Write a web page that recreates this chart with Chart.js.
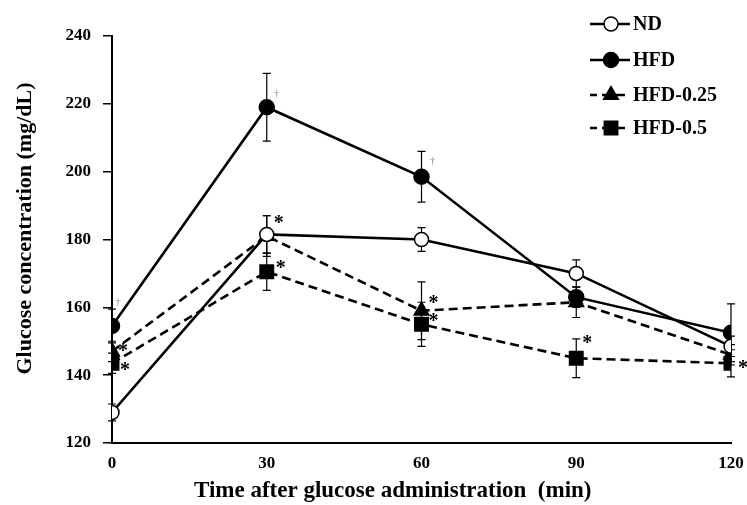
<!DOCTYPE html>
<html>
<head>
<meta charset="utf-8">
<script src="https://cdn.jsdelivr.net/npm/chart.js@4.4.1/dist/chart.umd.min.js"></script>
<style>
  html, body { margin: 0; padding: 0; background: #fff; }
</style>
</head>
<body>
<canvas id="ogtt" width="747" height="505"></canvas>
<script>
// time points (min) and tick values
const times = [0, 30, 60, 90, 120];
const yTicks = [120, 140, 160, 180, 200, 220, 240];
const seriesNames = ['ND', 'HFD', 'HFD-0.25', 'HFD-0.5'];

// mean glucose (mg/dL) per group
const ndValues = [129, 181.5, 180, 170, 148.5];
const hfdValues = [154.5, 219, 198.5, 163, 152.5];
const hfd025Values = [147, 181, 159, 161.5, 146];
const hfd05Values = [143.5, 170.5, 155, 145, 143.5];

// error (+/-) per group
const ndErr = [2.5, 5.5, 3.5, 4, 3];
const hfdErr = [5, 10, 7.5, 3, 8.5];
const hfd025Err = [3, 6, 8.5, 4.5, 3];
const hfd05Err = [3, 5.5, 6.5, 5.7, 4];

// significance marks: [dataset label, point index, symbol]
const marks = [
	['HFD', 0, '\u2020'], ['HFD', 1, '\u2020'], ['HFD', 2, '\u2020'],
	['HFD-0.25', 0, '*'], ['HFD-0.5', 0, '*'],
	['HFD-0.25', 1, '*'], ['HFD-0.5', 1, '*'],
	['HFD-0.25', 2, '*'], ['HFD-0.5', 2, '*'],
	['HFD-0.5', 3, '*'], ['HFD-0.5', 4, '*']
];
// offsets of each mark from its point (same order as marks)
const markOffsets = [
	[6, -24], [10, -13], [11, -16],
	[11, -4], [13, 4],
	[12, -16], [14, -7],
	[12, -11], [12, -6],
	[11, -18], [12, 2]
];

const FONT = '"Liberation Serif", "Times New Roman", serif';

function pts(values) {
	return values.map((v, i) => ({ x: times[i], y: v }));
}

const errorBars = {
	id: 'errorBars',
	beforeDatasetsDraw(chart) {
		const { ctx, scales: { x, y } } = chart;
		ctx.save();
		ctx.strokeStyle = '#000';
		ctx.lineWidth = 1.2;
		chart.data.datasets.forEach(ds => {
			ds.errors.forEach((e, i) => {
				const px = x.getPixelForValue(times[i]);
				const top = y.getPixelForValue(ds.data[i].y + e);
				const bot = y.getPixelForValue(ds.data[i].y - e);
				ctx.beginPath();
				ctx.moveTo(px, top); ctx.lineTo(px, bot);
				ctx.moveTo(px - 4, top); ctx.lineTo(px + 4, top);
				ctx.moveTo(px - 4, bot); ctx.lineTo(px + 4, bot);
				ctx.stroke();
			});
		});
		ctx.restore();
	}
};

const sigMarks = {
	id: 'sigMarks',
	afterDatasetsDraw(chart) {
		const { ctx, scales: { x, y } } = chart;
		ctx.save();
		ctx.textAlign = 'center';
		ctx.textBaseline = 'middle';
		marks.forEach((m, k) => {
			const ds = chart.data.datasets.find(d => d.label === m[0]);
			const px = x.getPixelForValue(times[m[1]]) + markOffsets[k][0];
			const py = y.getPixelForValue(ds.data[m[1]].y) + markOffsets[k][1];
			if (m[2] === '*') {
				ctx.fillStyle = '#000';
				ctx.font = 'bold 20px ' + FONT;
				ctx.fillText('*', px, py + 4);
			} else {
				ctx.fillStyle = '#888';
				ctx.font = '11px ' + FONT;
				ctx.fillText(m[2], px, py);
			}
		});
		ctx.restore();
	}
};

const sideLegend = {
	id: 'sideLegend',
	afterDraw(chart) {
		const ctx = chart.ctx;
		const x0 = 590, x1 = 630, mx = 611, tx = 633;
		const rows = [24, 60, 95, 128];
		ctx.save();
		chart.data.datasets.forEach((ds, i) => {
			const yy = rows[i];
			ctx.strokeStyle = '#000';
			ctx.lineWidth = ds.borderWidth;
			ctx.setLineDash(ds.borderDash || []);
			ctx.lineDashOffset = 2;
			ctx.beginPath();
			ctx.moveTo(x0, yy); ctx.lineTo(x1, yy);
			ctx.stroke();
			ctx.setLineDash([]);
			ctx.fillStyle = ds.pointBackgroundColor;
			ctx.lineWidth = 1.5;
			Chart.helpers.drawPoint(ctx, {
				pointStyle: ds.pointStyle, radius: ds.pointRadius, rotation: 0, borderWidth: 1.5
			}, mx, yy);
			ctx.fillStyle = '#000';
			ctx.font = 'bold 20px ' + FONT;
			ctx.textAlign = 'left';
			ctx.textBaseline = 'middle';
			ctx.fillText(ds.label, tx, yy + 1);
		});
		ctx.restore();
	}
};

function series(label, values, errs, style, fill, radius, dashed) {
	return {
		label,
		data: pts(values),
		errors: errs,
		borderColor: '#000',
		borderWidth: 2.6,
		borderDash: dashed ? [9, 5] : [],
		pointStyle: style,
		pointRadius: radius,
		pointHoverRadius: radius,
		pointBackgroundColor: fill,
		pointBorderColor: '#000',
		pointBorderWidth: 1.5,
		tension: 0,
		fill: false
	};
}

new Chart(document.getElementById('ogtt'), {
	type: 'line',
	data: {
		datasets: [
			series(seriesNames[0], ndValues, ndErr, 'circle', '#fff', 7, false),
			series(seriesNames[1], hfdValues, hfdErr, 'circle', '#000', 7.5, false),
			series(seriesNames[2], hfd025Values, hfd025Err, 'triangle', '#000', 8.5, true),
			series(seriesNames[3], hfd05Values, hfd05Err, 'rect', '#000', 9.5, true)
		]
	},
	options: {
		responsive: false,
		animation: false,
		devicePixelRatio: 1,
		layout: { padding: { top: 36, right: 16, left: 0, bottom: 0 } },
		plugins: { legend: { display: false }, tooltip: { enabled: false } },
		scales: {
			x: {
				type: 'linear',
				min: 0, max: 120,
				afterFit: s => { s.height = 62; s.paddingRight = 0; s.paddingLeft = 0; },
				afterBuildTicks: s => { s.ticks = times.map(v => ({ value: v })); },
				grid: { display: false, drawTicks: false },
				border: { display: true, color: '#000', width: 2 },
				ticks: { color: '#000', padding: 10, maxRotation: 0, font: { family: FONT, size: 17, weight: 'bold' } },
				title: {
					display: true,
					text: 'Time after glucose administration  (min)' + '\u00a0'.repeat(10),
					color: '#000',
					padding: { top: 0, bottom: 0 },
					font: { family: FONT, size: 23, weight: 'bold' }
				}
			},
			y: {
				min: 120, max: 240,
				afterFit: s => { s.width = 112; },
				afterBuildTicks: s => { s.ticks = yTicks.map(v => ({ value: v })); },
				grid: { display: true, drawOnChartArea: false, drawTicks: true, tickLength: 9, color: '#000', lineWidth: 1.5 },
				border: { display: true, color: '#000', width: 2 },
				ticks: { color: '#000', padding: 12, font: { family: FONT, size: 17, weight: 'bold' } },
				title: {
					display: true,
					text: '\u00a0'.repeat(4) + 'Glucose concentration (mg/dL)',
					color: '#000',
					padding: { top: 12, bottom: 0 },
					font: { family: FONT, size: 22, weight: 'bold' }
				}
			}
		}
	},
	plugins: [errorBars, sigMarks, sideLegend]
});
</script>
</body>
</html>
